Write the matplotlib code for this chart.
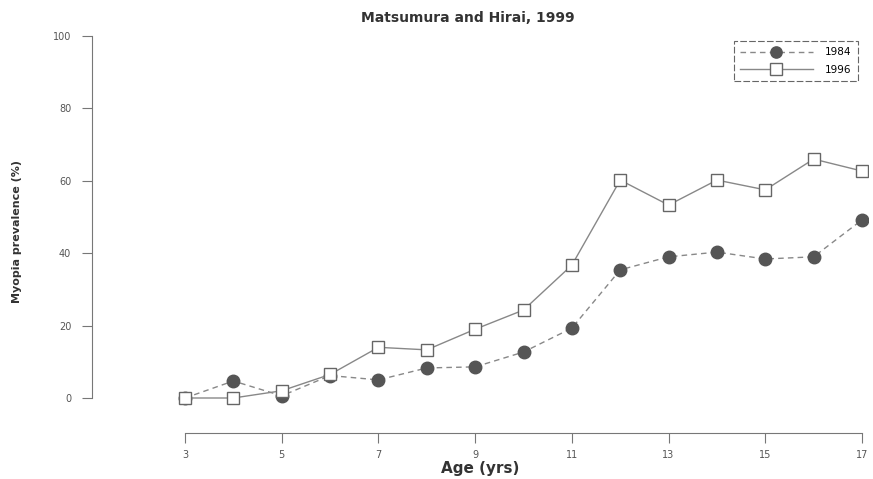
import matplotlib.pyplot as plt

# data
ages = [3, 4, 5, 6, 7, 8, 9, 10, 11, 12, 13, 14, 15, 16, 17]
prev_1984 = [0, 4.7, 0.6, 6.2, 5, 8.3, 8.6, 12.7, 19.3, 35.4, 39, 40.3, 38.4, 39, 49.2]
prev_1996 = [0, 0, 2, 6.5, 14, 13.3, 19, 24.3, 36.7, 60.2, 53.3, 60.2, 57.5, 66, 62.7]
xticks = [3, 5, 7, 9, 11, 13, 15, 17]
yticks = [0, 20, 40, 60, 80, 100]

fig = plt.figure(figsize=(8.73, 4.79), dpi=100)
W, H = 873, 479
# axes box in pixels: left 92, right 868, top 30, bottom 433
ax = fig.add_axes([92 / W, 1 - 433 / H, (868 - 92) / W, (433 - 30) / H])

px_x = (862 - 185) / 14.0
px_y = (398 - 36) / 100.0
ax.set_xlim(3 - (185 - 92) / px_x, 17 + (868 - 862) / px_x)
ax.set_ylim(0 - (433 - 398) / px_y, 100 + (36 - 30) / px_y)

ax.plot(ages, prev_1984, linestyle=(0, (4, 3)), color="#888888", lw=1,
        marker="o", markersize=9, markerfacecolor="#555555",
        markeredgecolor="#555555", label="1984")
ax.plot(ages, prev_1996, linestyle="-", color="#888888", lw=1,
        marker="s", markersize=9, markerfacecolor="white",
        markeredgecolor="#666666", label="1996")

#R style axes
for s in ["top", "right"]:
    ax.spines[s].set_visible(False)
ax.spines["left"].set_bounds(0, 100)
ax.spines["bottom"].set_bounds(3, 17)
ax.spines["left"].set_color("#777777")
ax.spines["bottom"].set_color("#777777")
ax.set_xticks(xticks)
ax.set_yticks(yticks)
ax.tick_params(colors="#777777", labelcolor="#555555", labelsize=7, length=7)
ax.tick_params(axis="y", pad=8)
ax.tick_params(axis="x", pad=5)

ax.set_xlabel("Age (yrs)", fontsize=11, fontweight="bold", color="#333333", labelpad=1)
ax.set_ylabel("Myopia prevalence (%)", fontsize=8, fontweight="bold",
              color="#333333", labelpad=22)
fig.text(468 / W, 1 - 18 / H, "Matsumura and Hirai, 1999", ha="center", va="center",
         fontsize=10, fontweight="bold", color="#333333")

leg = ax.legend(loc="upper right", bbox_to_anchor=(858 / W, 1 - 41 / H),
                bbox_transform=fig.transFigure, fontsize=7.5, fancybox=False,
                framealpha=1, edgecolor="#666666", handlelength=7, markerscale=0.9,
                borderpad=0.6, labelspacing=0.7, handletextpad=1.2, borderaxespad=0)
leg.get_frame().set_linewidth(0.8)
leg.get_frame().set_linestyle((0, (6, 2)))

plt.savefig("out.png", dpi=100)
plt.close()
